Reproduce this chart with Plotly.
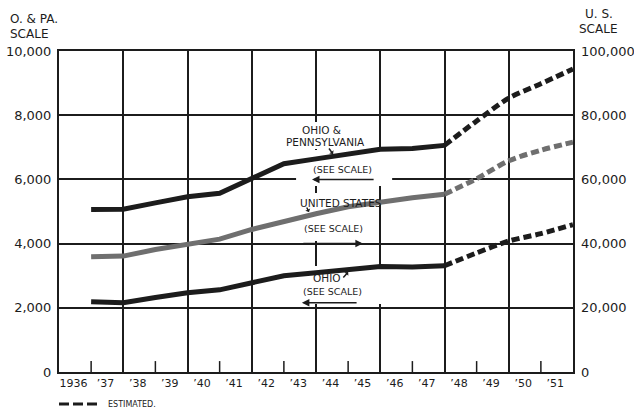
import plotly.graph_objects as go

# ---- data ----
years = list(range(1937, 1953))          # year boundaries on the axis
actual_years = years[:12]                # 1937 .. 1948 (solid)
est_years = years[11:]                   # 1948 .. 1952 (estimated, dashed)

ohio_pa = [5065, 5070, 5270, 5460, 5570, 6030, 6490, 6640, 6780, 6940, 6960, 7060]
ohio_pa_est = [7060, 7820, 8530, 8980, 9440]

us = [35900, 36100, 38150, 39900, 41400, 44400, 46900, 49300, 51500, 53000, 54300, 55400]
us_est = [55400, 60200, 65800, 69100, 71600]

ohio = [2190, 2160, 2320, 2470, 2560, 2780, 3000, 3090, 3180, 3290, 3270, 3310]
ohio_est = [3310, 3710, 4080, 4310, 4590]

label_years = list(range(1936, 1952))
labels = ["1936"] + ["\u2019%02d" % (y % 100) for y in label_years[1:]]
grid_years = list(range(1936, 1953, 2))
short_tick_years = list(range(1937, 1952, 2))
left_ticks = [0, 2000, 4000, 6000, 8000, 10000]
right_ticks = [0, 20000, 40000, 60000, 80000, 100000]

INK = "#1c1c1c"
GRAY = "#6f6f6f"
FONT = "DejaVu Sans"

# plot area in pixels
L, R, T, B = 59, 573, 51, 372
W, H = 634, 409

fig = go.Figure()

def add_line(x, y, color, dash, axis, shape):
    fig.add_trace(go.Scatter(
        x=x, y=y, mode="lines", yaxis=axis, hoverinfo="skip", showlegend=False,
        line=dict(color=color, width=5, dash=dash, shape=shape, smoothing=0.8),
    ))

add_line(actual_years, ohio_pa, INK, "solid", "y", "linear")
add_line(est_years, ohio_pa_est, INK, "8px,4px", "y", "spline")
add_line(actual_years, us, GRAY, "solid", "y2", "linear")
add_line(est_years, us_est, GRAY, "8px,4px", "y2", "spline")
add_line(actual_years, ohio, INK, "solid", "y", "linear")
add_line(est_years, ohio_est, INK, "8px,4px", "y", "spline")

def px_x(px):
    return (px - L) / (R - L)

def px_y(py):
    return (B - py) / (B - T)

shapes = []
# short year ticks on the base line
for yr in short_tick_years:
    shapes.append(dict(type="line", xref="x", yref="paper", x0=yr, x1=yr, y0=0, y1=0.034,
                       line=dict(color=INK, width=1.5), layer="below"))
# white patches that break the grid behind the labels
for (x0, x1, y0, y1) in [(1942.75, 1945.81, 6947, 7788), (1943.38, 1946.37, 5794, 6916),
                         (1943.41, 1945.77, 4081, 5576), (1943.19, 1946.15, 2118, 3302)]:
    shapes.append(dict(type="rect", xref="x", yref="y", x0=x0, x1=x1, y0=y0, y1=y1,
                       fillcolor="white", line=dict(width=0), layer="between"))
# legend dashes
shapes.append(dict(type="line", xref="paper", yref="paper", x0=px_x(59), x1=px_x(98),
                   y0=px_y(404), y1=px_y(404),
                   line=dict(color=INK, width=3, dash="10px,4px")))

ann = []
def text(x, y, s, size=11):
    ann.append(dict(x=x, y=y, xref="x", yref="y", text=s, showarrow=False,
                    xanchor="center", yanchor="middle",
                    font=dict(family=FONT, size=size, color=INK)))

def arrow(xh, yh, xt, yt, head=2, size=1.0):
    ann.append(dict(x=xh, y=yh, ax=xt, ay=yt, xref="x", yref="y", axref="x", ayref="y",
                    text="", showarrow=True, arrowhead=head, arrowsize=size,
                    arrowwidth=1.5, arrowcolor=INK, standoff=0, startstandoff=0))

def ptext(px, py, s, size, xanchor):
    ann.append(dict(x=px_x(px), y=px_y(py), xref="paper", yref="paper", text=s,
                    showarrow=False, xanchor=xanchor, yanchor="middle",
                    font=dict(family=FONT, size=size, color=INK)))

text(1944.16, 7540, "OHIO &", size=10.5)
text(1944.28, 7150, "PENNSYLVANIA", size=10.5)
arrow(1944.53, 6791, 1944.37, 7009, head=1, size=0.6)
text(1944.84, 6293, "(SEE SCALE)", size=9.5)
arrow(1943.875, 6000, 1945.84, 6000)

text(1944.78, 5265, "UNITED STATES", size=10.5)
arrow(1943.78, 4984, 1943.69, 5171, head=1, size=0.6)
text(1944.56, 4486, "(SEE SCALE)", size=9.5)
arrow(1945.46, 4000, 1943.56, 4000)

text(1944.34, 2930, "OHIO", size=10.5)
arrow(1945.0, 3115, 1944.81, 2897, head=1, size=0.6)
text(1944.5, 2520, "(SEE SCALE)", size=9.5)
arrow(1943.56, 2160, 1945.31, 2160)

ptext(8, 19, "O. & PA.", 12, "left")
ptext(8, 34, "SCALE", 12, "left")
ptext(599, 14, "U. S.", 12, "center")
ptext(598, 29, "SCALE", 12, "center")
ptext(106, 404, "ESTIMATED.", 8, "left")

fig.update_layout(
    width=W, height=H,
    margin=dict(l=L, r=W - R, t=T, b=H - B, autoexpand=False),
    paper_bgcolor="white", plot_bgcolor="white",
    showlegend=False,
    shapes=shapes,
    annotations=ann,
    xaxis=dict(
        range=[1936, 1952], tickmode="array",
        tickvals=[y + 0.45 for y in label_years], ticktext=labels,
        ticks="", showgrid=False, zeroline=False,
        showline=True, mirror=True, linecolor=INK, linewidth=2,
        tickfont=dict(family=FONT, size=11, color=INK),
        minor=dict(tickmode="array", tickvals=grid_years, showgrid=True,
                   gridcolor=INK, gridwidth=1.5, ticks=""),
    ),
    yaxis=dict(
        range=[0, 10000], tickmode="array", tickvals=left_ticks, tickformat=",",
        ticks="", showgrid=True, gridcolor=INK, gridwidth=1.5, zeroline=False,
        showline=True, mirror=True, linecolor=INK, linewidth=2,
        tickfont=dict(family=FONT, size=13, color=INK), ticklabelstandoff=3,
    ),
    yaxis2=dict(
        range=[0, 100000], overlaying="y", side="right", tickmode="array",
        tickvals=right_ticks, tickformat=",", ticks="", showgrid=False, zeroline=False,
        showline=False, tickfont=dict(family=FONT, size=13, color=INK), ticklabelstandoff=7,
    ),
)

fig.write_html("out.html", config={"displayModeBar": False},
               post_script="document.body.style.margin='0px';document.body.style.overflow='hidden';")
